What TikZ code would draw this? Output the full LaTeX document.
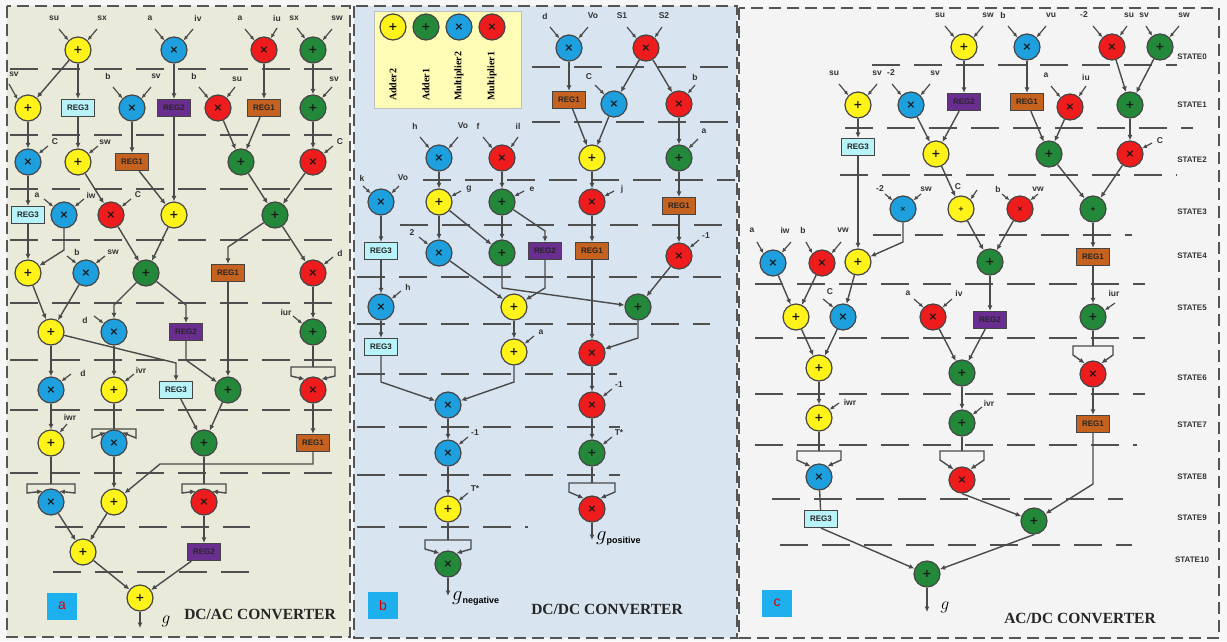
\documentclass[tikz,border=0pt]{standalone}
\usepackage{fontspec}
\setmainfont{Liberation Sans}
\newfontfamily\serifbold{Liberation Serif}
\newfontfamily\opfont{DejaVu Sans}
\usetikzlibrary{arrows.meta}

\definecolor{cPage}{HTML}{F7F7F7}
\definecolor{cBgA}{HTML}{E9EADA}
\definecolor{cBgB}{HTML}{D8E4F0}
\definecolor{cBgC}{HTML}{F4F4F4}
\definecolor{cYel}{HTML}{FFF31A}
\definecolor{cGrn}{HTML}{23883A}
\definecolor{cBlu}{HTML}{1E9FDE}
\definecolor{cRed}{HTML}{EE1C1C}
\definecolor{cOra}{HTML}{C5621F}
\definecolor{cPur}{HTML}{6A2D90}
\definecolor{cCya}{HTML}{B9F3FA}
\definecolor{cEdge}{HTML}{454545}
\definecolor{cLine}{HTML}{4A4A4A}
\definecolor{cSep}{HTML}{505050}
\definecolor{cFrame}{HTML}{555555}
\definecolor{cLeg}{HTML}{FFFCB5}
\definecolor{cTag}{HTML}{1EB0EE}

\tikzset{
  opnode/.style={circle, draw=cEdge, line width=1.2pt, minimum size=26pt, inner sep=0pt,
    font=\opfont\bfseries\fontsize{11}{11}\selectfont, text=black!90},
  addY/.style={opnode, fill=cYel},
  addG/.style={opnode, fill=cGrn},
  mulB/.style={opnode, fill=cBlu},
  mulR/.style={opnode, fill=cRed},
  tinysym/.style={font=\opfont\bfseries\fontsize{7}{7}\selectfont},
  regbox/.style={rectangle, draw=cEdge, line width=1.2pt, minimum width=33pt, minimum height=17pt,
    inner sep=1pt, font=\bfseries\fontsize{8}{8}\selectfont, text=black!85},
  regA/.style={regbox, fill=cOra},
  regB/.style={regbox, fill=cPur},
  regC/.style={regbox, fill=cCya},
  wire/.style={draw=cLine, line width=1.4pt},
  flow/.style={wire, -{Latex[length=5.5pt,width=5pt]}},
  inarr/.style={draw=cLine, line width=1.2pt, -{Latex[length=4.5pt,width=4pt]}},
  inlab/.style={font=\bfseries\fontsize{8.5}{8.5}\selectfont, text=black!80, inner sep=0pt},
  sepline/.style={draw=cSep, line width=1.6pt, dash pattern=on 28pt off 14pt},
  panelframe/.style={draw=cFrame, line width=1.8pt, dash pattern=on 12pt off 6pt},
  statelab/.style={font=\bfseries\fontsize{8}{8}\selectfont, text=black!80},
  titlelab/.style={font=\serifbold\bfseries\fontsize{15.5}{15.5}\selectfont, text=black!85},
  legtxt/.style={rotate=90, anchor=west, inner sep=0pt, font=\serifbold\bfseries\fontsize{10}{10}\selectfont},
  tagbox/.style={fill=cTag, minimum width=30pt, minimum height=27pt, inner sep=0pt,
    text=red!85!black, font=\fontsize{14}{14}\selectfont},
}

% an external operand: label text and a short arrow into a node
% #1 node, #2 tag, #3 border angle, #4 tail offset, #5 label offset, #6 text
\newcommand\feed[6]{%
  \path (#1.center) ++(#4) coordinate (#1-#2t);
  \path (#1.center) ++(#5) node[inlab] (#1-#2) {#6};
  \draw[inarr] (#1-#2t) -- (#1.#3);
}
\newcommand\inTL[2]{\feed{#1}{l}{135}{-19,-21}{-24,-32}{#2}}
\newcommand\inTR[2]{\feed{#1}{r}{45}{19,-21}{24,-32}{#2}}
\newcommand\inSR[2]{\feed{#1}{s}{38}{20,-16}{27,-20}{#2}}
\newcommand\inSL[2]{\feed{#1}{p}{142}{-20,-16}{-27,-20}{#2}}
\newcommand\inLR[2]{\feed{#1}{q}{25}{22,-11}{30,-13}{#2}}

% one value fed twice into the next operator (squaring)
% #1 source, #2 target, #3 bar y, #4 half width
\newcommand\splitto[4]{%
  \coordinate (#1-fy) at (0,#3);
  \draw[wire] (#1) -- (#1 |- #1-fy) coordinate (#1-fk);
  \draw[flow] (#1-fk) -- ++(-#4,0) -- ++(0,9) -- (#2.128);
  \draw[flow] (#1-fk) -- ++(#4,0) -- ++(0,9) -- (#2.52);
}

\begin{document}
\begin{tikzpicture}[x=1pt,y=-1pt]
\useasboundingbox (0,0) rectangle (1227,641);
\fill[cPage] (0,0) rectangle (1227,641);
\fill[cBgA] (7,6) rectangle (350,637);
\fill[cBgB] (354,6) rectangle (737,638);
\fill[cBgC] (739,8) rectangle (1219,638);

% ---------- state separators ----------
\foreach \yy in {69,135,189,240,303,360,410,473}
  \draw[sepline] (10,\yy) -- (342,\yy);
\draw[sepline] (55,527) -- (250,527);
\draw[sepline] (53,572) -- (253,572);

\foreach \yy/\xa/\xb in {67/532/735,122/532/735,180/423/735,225/400/735,277/357/735,
  324/357/710,374/357/617,427/357/620,475/357/620,527/357/528}
  \draw[sepline] (\xa,\yy) -- (\xb,\yy);

\foreach \yy/\xa/\xb in {65/872/1177,128/845/1193,175/840/1177,235/873/1132,284/755/1145,
  338/755/1145,394/755/1145,445/755/1137,499/772/1123,545/780/1132}
  \draw[sepline] (\xa,\yy) -- (\xb,\yy);

% ================= DC/AC converter =================
\node[addY] (a00) at (78,50) {+};
\node[mulB] (a01) at (174,50) {×};
\node[mulR] (a02) at (264,50) {×};
\node[addG] (a03) at (313,50) {+};
\node[addY] (a10) at (28,108) {+};
\node[regC] (a11) at (78,108) {REG3};
\node[mulB] (a12) at (132,108) {×};
\node[regB] (a13) at (174,108) {REG2};
\node[mulR] (a14) at (218,108) {×};
\node[regA] (a15) at (264,108) {REG1};
\node[addG] (a16) at (313,108) {+};
\node[mulB] (a20) at (28,162) {×};
\node[addY] (a21) at (78,162) {+};
\node[regA] (a22) at (132,162) {REG1};
\node[addG] (a23) at (241,162) {+};
\node[mulR] (a24) at (313,162) {×};
\node[regC] (a30) at (28,215) {REG3};
\node[mulB] (a31) at (64,215) {×};
\node[mulR] (a32) at (111,215) {×};
\node[addY] (a33) at (174,215) {+};
\node[addG] (a34) at (275,215) {+};
\node[addY] (a40) at (28,273) {+};
\node[mulB] (a41) at (86,273) {×};
\node[addG] (a42) at (146,273) {+};
\node[regA] (a43) at (228,273) {REG1};
\node[mulR] (a44) at (313,273) {×};
\node[addY] (a50) at (51,332) {+};
\node[mulB] (a51) at (114,332) {×};
\node[regB] (a52) at (186,332) {REG2};
\node[addG] (a53) at (313,332) {+};
\node[mulB] (a60) at (51,390) {×};
\node[addY] (a61) at (114,390) {+};
\node[regC] (a62) at (176,390) {REG3};
\node[addG] (a63) at (228,390) {+};
\node[mulR] (a64) at (313,390) {×};
\node[addY] (a70) at (51,443) {+};
\node[mulB] (a71) at (114,443) {×};
\node[addG] (a72) at (204,443) {+};
\node[regA] (a73) at (313,443) {REG1};
\node[mulB] (a80) at (51,502) {×};
\node[addY] (a81) at (114,502) {+};
\node[mulR] (a82) at (204,502) {×};
\node[addY] (a90) at (83,552) {+};
\node[regB] (a91) at (204,552) {REG2};
\node[addY] (aout) at (140,598) {+};
\coordinate (aend) at (140,628);

\draw[flow] (a00) -- (a10);
\draw[flow] (a00) -- (a11);
\draw[flow] (a01) -- (a13);
\draw[flow] (a02) -- (a15);
\draw[flow] (a03) -- (a16);
\draw[flow] (a10) -- (a20);
\draw[flow] (a11) -- (a21);
\draw[flow] (a12) -- (a22);
\draw[flow] (a14) -- (a23);
\draw[flow] (a15) -- (a23);
\draw[flow] (a16) -- (a24);
\draw[flow] (a20) -- (a30);
\draw[flow] (a21) -- (a32);
\draw[flow] (a22) -- (a33);
\draw[flow] (a13) -- (a33);
\draw[flow] (a23) -- (a34);
\draw[flow] (a24) -- (a34);
\draw[flow] (a30) -- (a40);
\draw[flow] (a31) -- (64,250) -- (a40);
\draw[flow] (a32) -- (a42);
\draw[flow] (a33) -- (a42);
\draw[flow] (a34) -- (228,247) -- (a43);
\draw[flow] (a34) -- (a44);
\draw[flow] (a40) -- (a50);
\draw[flow] (a41) -- (a50);
\draw[flow] (a42) -- (114,305) -- (a51);
\draw[flow] (a42) -- (186,305) -- (a52);
\draw[flow] (a44) -- (a53);
\draw[flow] (a50) -- (a60);
\draw[flow] (a50) -- (176,363) -- (a62);
\draw[flow] (a51) -- (a61);
\draw[flow] (a52) -- (186,360) -- (a63);
\draw[flow] (a43) -- (a63);
\splitto{a53}{a64}{367}{22}
\draw[flow] (a60) -- (a70);
\splitto{a61}{a71}{429}{22}
\draw[flow] (a62) -- (a72);
\draw[flow] (a63) -- (a72);
\draw[flow] (a64) -- (a73);
\splitto{a70}{a80}{484}{24}
\draw[flow] (a71) -- (a81);
\draw[flow] (a73) -- (313,464) -- (160,464) -- (a81);
\splitto{a72}{a82}{484}{22}
\draw[flow] (a80) -- (a90);
\draw[flow] (a81) -- (a90);
\draw[flow] (a82) -- (a91);
\draw[flow] (a90) -- (aout);
\draw[flow] (a91) -- (aout);
\draw[flow] (aout) -- (aend);

\inTL{a00}{su} \inTR{a00}{sx}
\inTL{a01}{a} \inTR{a01}{iv}
\inTL{a02}{a} \feed{a02}{r}{60}{13,-22}{13,-32}{iu}
\feed{a03}{l}{125}{-16,-22}{-19,-32}{sx} \inTR{a03}{sw}
\feed{a10}{l}{140}{-19,-24}{-14,-34}{sv}
\inTL{a12}{b} \inTR{a12}{sv}
\inTL{a14}{b} \feed{a14}{r}{50}{17,-21}{19,-29}{su}
\feed{a16}{r}{48}{19,-21}{21,-29}{sv}
\inSR{a20}{C} \inSR{a21}{sw} \inSR{a24}{C}
\inSL{a31}{a} \inSR{a31}{iw}
\inSR{a32}{C}
\feed{a41}{l}{135}{-19,-17}{-9,-21}{b}
\feed{a41}{r}{45}{19,-17}{27,-21}{sw}
\inSR{a44}{d}
\feed{a51}{l}{140}{-20,-16}{-29,-12}{d}
\inSL{a53}{iur}
\feed{a60}{r}{40}{20,-16}{32,-17}{d}
\inSR{a61}{ivr}
\feed{a70}{r}{50}{16,-19}{19,-26}{iwr}

\node[tagbox] (taga) at (62,606) {a};
\node[titlelab] (tita) at (260,614) {DC/AC CONVERTER};
\node (ga) at (166,621) {\fontsize{18}{18}\selectfont$g$};

% ================= DC/DC converter =================
\filldraw[fill=cLeg, draw=black!25, line width=0.8pt] (374,11) rectangle (521,108);
\node[addY] (lg1) at (393,27) {+};
\node[addG] (lg2) at (426,27) {+};
\node[mulB] (lg3) at (459,27) {×};
\node[mulR] (lg4) at (492,27) {×};
\node[legtxt] (lt1) at (393,101) {Adder2};
\node[legtxt] (lt2) at (426,101) {Adder1};
\node[legtxt] (lt3) at (459,101) {Multiplier2};
\node[legtxt] (lt4) at (492,101) {Multiplier1};

\node[mulB] (b00) at (569,48) {×};
\node[mulR] (b01) at (646,48) {×};
\node[regA] (b10) at (569,100) {REG1};
\node[mulB] (b11) at (614,104) {×};
\node[mulR] (b12) at (679,104) {×};
\node[mulB] (b20) at (439,158) {×};
\node[mulR] (b21) at (502,158) {×};
\node[addY] (b22) at (592,158) {+};
\node[addG] (b23) at (679,158) {+};
\node[mulB] (b30) at (381,202) {×};
\node[addY] (b31) at (439,202) {+};
\node[addG] (b32) at (502,202) {+};
\node[mulR] (b33) at (592,202) {×};
\node[regA] (b34) at (679,206) {REG1};
\node[regC] (b40) at (381,251) {REG3};
\node[mulB] (b41) at (439,253) {×};
\node[addG] (b42) at (502,253) {+};
\node[regB] (b43) at (545,251) {REG2};
\node[regA] (b44) at (592,251) {REG1};
\node[mulR] (b45) at (679,256) {×};
\node[mulB] (b50) at (381,307) {×};
\node[addY] (b51) at (514,307) {+};
\node[addG] (b52) at (638,307) {+};
\node[regC] (b60) at (381,347) {REG3};
\node[addY] (b61) at (514,352) {+};
\node[mulR] (b62) at (592,353) {×};
\node[mulB] (b70) at (448,405) {×};
\node[mulR] (b71) at (592,405) {×};
\node[mulB] (b80) at (448,453) {×};
\node[addG] (b81) at (592,453) {+};
\node[addY] (b90) at (448,509) {+};
\node[mulR] (b91) at (592,509) {×};
\node[addG] (bA0) at (448,564) {×};
\coordinate (bnegend) at (448,596);
\coordinate (bposend) at (592,540);

\draw[flow] (b00) -- (b10);
\draw[flow] (b01) -- (b11);
\draw[flow] (b01) -- (b12);
\draw[flow] (b10) -- (b22);
\draw[flow] (b11) -- (b22);
\draw[flow] (b12) -- (b23);
\draw[flow] (b20) -- (b31);
\draw[flow] (b21) -- (b32);
\draw[flow] (b22) -- (b33);
\draw[flow] (b23) -- (b34);
\draw[flow] (b30) -- (b40);
\draw[flow] (b31) -- (b41);
\draw[flow] (b31) -- (b42);
\draw[flow] (b32) -- (b42);
\draw[flow] (b32) -- (545,231) -- (b43);
\draw[flow] (b33) -- (b44);
\draw[flow] (b34) -- (b45);
\draw[flow] (b40) -- (b50);
\draw[flow] (b41) -- (b51);
\draw[flow] (b43) -- (545,288) -- (b51);
\draw[flow] (b42) -- (502,288) -- (b52);
\draw[flow] (b45) -- (b52);
\draw[flow] (b50) -- (b60);
\draw[flow] (b51) -- (b61);
\draw[flow] (b44) -- (b62);
\draw[flow] (b52) -- (638,338) -- (b62);
\draw[flow] (b60) -- (381,382) -- (b70);
\draw[flow] (b61) -- (514,382) -- (b70);
\draw[flow] (b62) -- (b71);
\draw[flow] (b70) -- (b80);
\draw[flow] (b71) -- (b81);
\draw[flow] (b80) -- (b90);
\splitto{b81}{b91}{483}{23}
\splitto{b90}{bA0}{540}{23}
\draw[flow] (bA0) -- (bnegend);
\draw[flow] (b91) -- (bposend);

\inTL{b00}{d} \inTR{b00}{Vo}
\inTL{b01}{S1} \feed{b01}{r}{50}{16,-21}{18,-32}{S2}
\feed{b11}{l}{135}{-19,-19}{-25,-27}{C}
\feed{b12}{r}{50}{16,-19}{16,-27}{b}
\inTL{b20}{h} \inTR{b20}{Vo}
\inTL{b21}{f} \feed{b21}{r}{50}{16,-21}{16,-32}{il}
\feed{b23}{r}{45}{19,-19}{25,-27}{a}
\feed{b30}{l}{140}{-18,-16}{-19,-24}{k} \feed{b30}{r}{40}{18,-16}{22,-24}{Vo}
\inLR{b31}{g} \inLR{b32}{e} \inLR{b33}{j}
\inSL{b41}{2}
\inSR{b45}{-1}
\inSR{b50}{h}
\inSR{b61}{a}
\inSR{b71}{-1}
\inSR{b80}{-1}
\inSR{b81}{T*}
\inSR{b90}{T*}

\node[anchor=west, inner sep=0pt] (gneg) at (452,598)
  {\fontsize{20}{20}\selectfont$g$\raisebox{-3pt}{\bfseries\fontsize{9}{9}\selectfont negative}};
\node[anchor=west, inner sep=0pt] (gpos) at (596,538)
  {\fontsize{20}{20}\selectfont$g$\raisebox{-3pt}{\bfseries\fontsize{9}{9}\selectfont positive}};
\node[tagbox] (tagb) at (383,605) {b};
\node[titlelab] (titb) at (607,609) {DC/DC CONVERTER};

% ================= AC/DC converter =================
\node[addY] (c00) at (964,47) {+};
\node[mulB] (c01) at (1027,47) {×};
\node[mulR] (c02) at (1112,47) {×};
\node[addG] (c03) at (1160,47) {+};
\node[addY] (c10) at (858,105) {+};
\node[mulB] (c11) at (911,105) {×};
\node[regB] (c12) at (964,102) {REG2};
\node[regA] (c13) at (1027,102) {REG1};
\node[mulR] (c14) at (1070,107) {×};
\node[addG] (c15) at (1130,105) {+};
\node[regC] (c20) at (858,147) {REG3};
\node[addY] (c21) at (936,154) {+};
\node[addG] (c22) at (1049,154) {+};
\node[mulR] (c23) at (1130,154) {×};
\node[mulB,tinysym] (c30) at (903,209) {×};
\node[addY,tinysym] (c31) at (961,209) {+};
\node[mulR,tinysym] (c32) at (1020,209) {×};
\node[addG,tinysym] (c33) at (1093,209) {+};
\node[mulB] (c40) at (773,263) {×};
\node[mulR] (c41) at (822,263) {×};
\node[addY] (c42) at (858,262) {+};
\node[addG] (c43) at (990,262) {+};
\node[regA] (c44) at (1093,257) {REG1};
\node[addY] (c50) at (796,317) {+};
\node[mulB] (c51) at (843,317) {×};
\node[mulR] (c52) at (933,317) {×};
\node[regB] (c53) at (990,320) {REG2};
\node[addG] (c54) at (1093,317) {+};
\node[addY] (c60) at (819,368) {+};
\node[addG] (c61) at (962,373) {+};
\node[mulR] (c62) at (1093,374) {×};
\node[addY] (c70) at (819,418) {+};
\node[addG] (c71) at (962,423) {+};
\node[regA] (c72) at (1093,424) {REG1};
\node[mulB] (c80) at (819,477) {×};
\node[mulR] (c81) at (962,480) {×};
\node[regC] (c90) at (821,519) {REG3};
\node[addG] (c91) at (1034,521) {+};
\node[addG] (cA0) at (927,574) {+};
\coordinate (cend) at (927,612);

\draw[flow] (c00) -- (c12);
\draw[flow] (c01) -- (c13);
\draw[flow] (c02) -- (c15);
\draw[flow] (c03) -- (c15);
\draw[flow] (c10) -- (c20);
\draw[flow] (c11) -- (c21);
\draw[flow] (c12) -- (c21);
\draw[flow] (c13) -- (c22);
\draw[flow] (c14) -- (c22);
\draw[flow] (c15) -- (c23);
\draw[flow] (c21) -- (c31);
\draw[flow] (c22) -- (c33);
\draw[flow] (c23) -- (c33);
\draw[flow] (c20) -- (c42);
\draw[flow] (c30) -- (903,242) -- (c42);
\draw[flow] (c31) -- (c43);
\draw[flow] (c32) -- (c43);
\draw[flow] (c33) -- (c44);
\draw[flow] (c40) -- (c50);
\draw[flow] (c41) -- (c50);
\draw[flow] (c42) -- (c51);
\draw[flow] (c43) -- (c53);
\draw[flow] (c44) -- (c54);
\draw[flow] (c50) -- (c60);
\draw[flow] (c51) -- (c60);
\draw[flow] (c52) -- (c61);
\draw[flow] (c53) -- (c61);
\splitto{c54}{c62}{346}{20}
\draw[flow] (c60) -- (c70);
\draw[flow] (c61) -- (c71);
\draw[flow] (c62) -- (c72);
\splitto{c70}{c80}{451}{22}
\splitto{c71}{c81}{451}{22}
\draw[wire] (c80) -- (c90);
\draw[flow] (c81.south) -- (c91);
\draw[flow] (c72) -- (1093,484) -- (c91);
\draw[flow] (c90.south) -- (cA0);
\draw[flow] (c91.south) -- (cA0);
\draw[flow] (cA0) -- (cend);

\inTL{c00}{su} \inTR{c00}{sw}
\inTL{c01}{b} \inTR{c01}{vu}
\feed{c02}{l}{135}{-19,-21}{-28,-32}{-2}
\feed{c02}{r}{55}{15,-21}{17,-32}{su}
\feed{c03}{l}{125}{-14,-21}{-16,-32}{sv}
\inTR{c03}{sw}
\inTL{c10}{su} \feed{c10}{r}{45}{19,-21}{19,-32}{sv}
\feed{c11}{l}{135}{-19,-21}{-20,-32}{-2} \inTR{c11}{sv}
\inTL{c14}{a} \feed{c14}{r}{50}{16,-21}{16,-30}{iu}
\inLR{c23}{C}
\feed{c30}{l}{140}{-18,-15}{-23,-20}{-2} \feed{c30}{r}{40}{18,-15}{23,-20}{sw}
\feed{c31}{r}{45}{16,-19}{-3,-22}{C}
\feed{c32}{l}{140}{-18,-15}{-22,-20}{b} \feed{c32}{r}{40}{18,-15}{18,-20}{vw}
\feed{c40}{l}{135}{-16,-21}{-21,-33}{a} \feed{c40}{r}{50}{18,-21}{12,-33}{iw}
\feed{c41}{l}{135}{-16,-21}{-19,-33}{b} \feed{c41}{r}{45}{19,-21}{21,-33}{vw}
\feed{c51}{l}{135}{-20,-18}{-13,-25}{C}
\feed{c52}{l}{135}{-19,-18}{-25,-24}{a} \feed{c52}{r}{45}{19,-18}{26,-24}{iv}
\feed{c54}{r}{30}{22,-14}{21,-24}{iur}
\feed{c70}{r}{38}{20,-15}{31,-16}{iwr}
\inSR{c71}{ivr}

\foreach \k/\yy in {0/57,1/105,2/160,3/212,4/256,5/308,6/378,7/425,8/477,9/518,10/560}
  \node[statelab] (st\k) at (1192,\yy) {STATE\k};

\node[tagbox] (tagc) at (777,603) {c};
\node (gc) at (945,607) {\fontsize{18}{18}\selectfont$g$};
\node[titlelab] (titc) at (1080,618) {AC/DC CONVERTER};

% ---------- panel frames ----------
\draw[panelframe] (7,6) rectangle (350,637);
\draw[panelframe] (354,6) rectangle (737,638);
\draw[panelframe] (739,8) rectangle (1219,638);
\end{tikzpicture}
\end{document}
